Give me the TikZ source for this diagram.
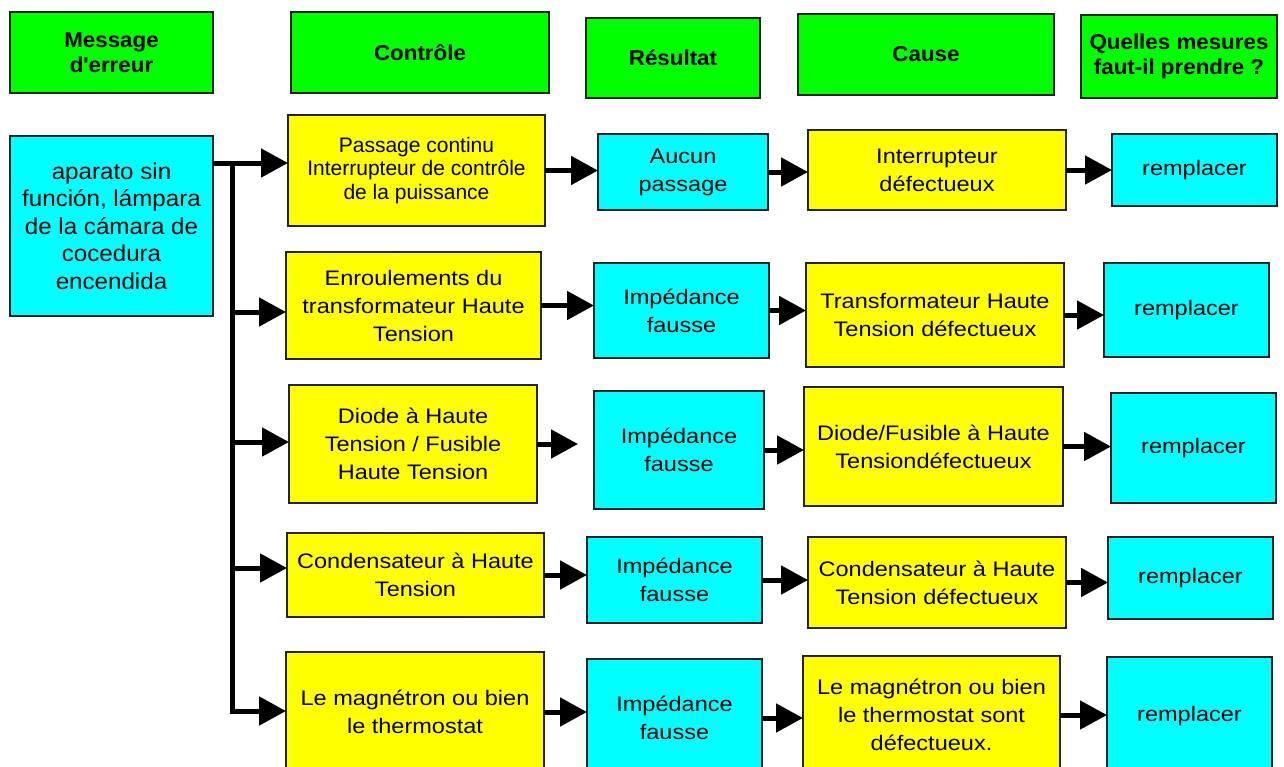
\documentclass[tikz,border=0pt]{standalone}
\usepackage{fontspec}
\setmainfont{Liberation Sans}
\newfontfamily\bodyfnt[FakeStretch=1.12]{Liberation Sans}
\newfontfamily\narrowfnt{Liberation Sans}
\newfontfamily\srcfnt[FakeStretch=1.05]{Liberation Sans}
\newfontfamily\hdrfnt[FakeStretch=1.04]{Liberation Sans}
\usetikzlibrary{arrows.meta}
\definecolor{hgreen}{RGB}{0,255,0}
\definecolor{hcyan}{RGB}{0,255,255}
\definecolor{hyellow}{RGB}{255,255,0}
\definecolor{edgecol}{RGB}{35,35,35}
\newcommand\mkbox[7]{\node[#2, minimum width={(#5-#3)*1pt}, minimum height={(#6-#4)*1pt}] (#1) at ({(#3+#5)/2},{(#4+#6)/2}) {#7};}
\tikzset{
  boxbase/.style={draw=edgecol, line width=1.3pt, inner sep=0pt, outer sep=0pt, align=center, text=black},
  hdr/.style={boxbase, fill=hgreen, font=\hdrfnt\bfseries\fontsize{21.5}{25.5}\selectfont},
  cyanbox/.style={boxbase, fill=hcyan, font=\bodyfnt\fontsize{21}{28}\selectfont},
  yelbox/.style={boxbase, fill=hyellow, font=\bodyfnt\fontsize{21}{28}\selectfont},
  srcbox/.style={boxbase, fill=hcyan, font=\srcfnt\fontsize{23}{27.5}\selectfont},
  tightbox/.style={yelbox, font=\narrowfnt\fontsize{21}{23.5}\selectfont},
  arr/.style={line width=5pt, -{Triangle[length=27pt,width=28pt]}},
}
\begin{document}
\begin{tikzpicture}[x=1pt,y=-1pt]
\useasboundingbox[fill=white] (0,0) rectangle (1284,766);
\clip (0,0) rectangle (1284,766);
% headers
\mkbox{H1}{hdr}{10}{12}{213}{93}{Message\\d\textquotesingle{}erreur}
\mkbox{H2}{hdr}{291}{12}{549}{93}{Contrôle}
\mkbox{H3}{hdr}{586}{18}{760}{98}{Résultat}
\mkbox{H4}{hdr}{798}{14}{1054}{95}{Cause}
\mkbox{H5}{hdr}{1081}{15}{1277}{98}{Quelles mesures\\faut-il prendre ?}
% source
\mkbox{S}{srcbox}{10}{136}{213}{316}{aparato sin\\función, lámpara\\de la cámara de\\cocedura\\encendida}
% row 1
\mkbox{C1}{tightbox}{288}{115}{545}{226}{Passage continu\\Interrupteur de contrôle\\de la puissance}
\mkbox{R1}{cyanbox}{598}{134}{768}{210}{Aucun\\passage}
\mkbox{K1}{yelbox}{808}{130}{1066}{210}{Interrupteur\\défectueux}
\mkbox{M1}{cyanbox}{1112}{134}{1277}{206}{remplacer}
% row 2
\mkbox{C2}{yelbox}{286}{252}{541}{359}{Enroulements du\\transformateur Haute\\Tension}
\mkbox{R2}{cyanbox}{594}{263}{769}{358}{Impédance\\fausse}
\mkbox{K2}{yelbox}{806}{263}{1064}{367}{Transformateur Haute\\Tension défectueux}
\mkbox{M2}{cyanbox}{1104}{263}{1269}{357}{remplacer}
% row 3
\mkbox{C3}{yelbox}{289}{385}{537}{503}{Diode à Haute\\Tension / Fusible\\Haute Tension}
\mkbox{R3}{cyanbox}{594}{391}{764}{509}{Impédance\\fausse}
\mkbox{K3}{yelbox}{804}{387}{1063}{506}{Diode/Fusible à Haute\\Tensiondéfectueux}
\mkbox{M3}{cyanbox}{1111}{393}{1276}{503}{remplacer}
% row 4
\mkbox{C4}{yelbox}{287}{533}{544}{617}{Condensateur à Haute\\Tension}
\mkbox{R4}{cyanbox}{587}{537}{762}{623}{Impédance\\fausse}
\mkbox{K4}{yelbox}{808}{537}{1066}{628}{Condensateur à Haute\\Tension défectueux}
\mkbox{M4}{cyanbox}{1108}{537}{1273}{619}{remplacer}
% row 5
\mkbox{C5}{yelbox}{286}{652}{544}{772}{Le magnétron ou bien\\le thermostat}
\mkbox{R5}{cyanbox}{587}{659}{762}{777}{Impédance\\fausse}
\mkbox{K5}{yelbox}{803}{656}{1060}{774}{Le magnétron ou bien\\le thermostat sont\\défectueux.}
\mkbox{M5}{cyanbox}{1107}{657}{1272}{775}{remplacer}
% trunk
\coordinate (t1) at (232,163);
\coordinate (t2) at (232,312);
\coordinate (t3) at (232,442);
\coordinate (t4) at (232,568);
\coordinate (t5) at (232,711);
\coordinate (g3) at (578,444);
\draw[arr, line join=miter] (S.east |- t1) -- (t1) -- (t5) -- (t5 -| C5.west);
\draw[arr] (t1) -- (t1 -| C1.west);
\draw[arr] (t2) -- (t2 -| C2.west);
\draw[arr] (t3) -- (t3 -| C3.west);
\draw[arr] (t4) -- (t4 -| C4.west);
% row arrows
\draw[arr] (C1.east) -- (C1.east -| R1.west);
\draw[arr] (R1.east) -- (R1.east -| K1.west);
\draw[arr] (K1.east) -- (K1.east -| M1.west);
\draw[arr] (C2.east) -- (C2.east -| R2.west);
\draw[arr] (R2.east) -- (R2.east -| K2.west);
\draw[arr] (K2.east) -- (K2.east -| M2.west);
\draw[arr] (C3.east) -- (C3.east -| g3);
\draw[arr] (R3.east) -- (R3.east -| K3.west);
\draw[arr] (K3.east) -- (K3.east -| M3.west);
\draw[arr] (C4.east) -- (C4.east -| R4.west);
\draw[arr] (R4.east) -- (R4.east -| K4.west);
\draw[arr] (K4.east) -- (K4.east -| M4.west);
\draw[arr] (C5.east) -- (C5.east -| R5.west);
\draw[arr] (R5.east) -- (R5.east -| K5.west);
\draw[arr] (K5.east) -- (K5.east -| M5.west);
\end{tikzpicture}
\end{document}
